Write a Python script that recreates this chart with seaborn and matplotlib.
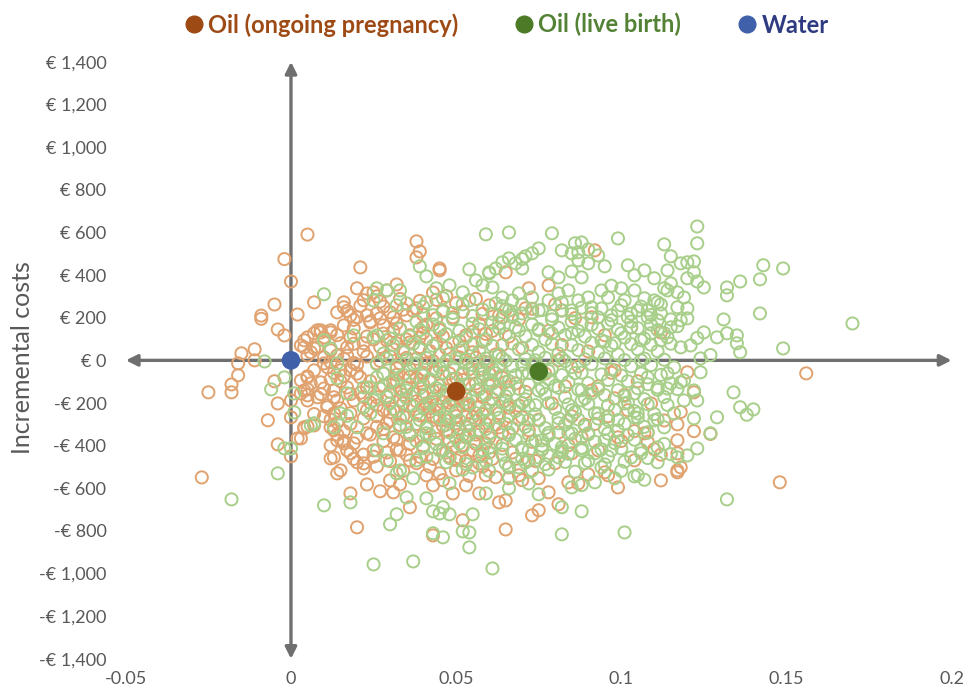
import numpy as np
import matplotlib
matplotlib.use("Agg")
import matplotlib.pyplot as plt
from matplotlib.lines import Line2D
from matplotlib.patches import FancyArrowPatch
import seaborn as sns


# Bootstrap replicates (incremental effect, incremental costs)
ongoing = [
    # left of the y axis / near zero effect
    (0.005, 590), (-0.002, 475), (0.000, 370), (-0.005, 262), (-0.009, 210), (-0.009, 195),
    (0.002, 215), (-0.004, 145), (-0.002, 117), (0.007, 272), (-0.015, 33), (-0.011, 52),
    (-0.016, -14), (-0.011, 0), (0.003, 70), (0.005, 23), (0.007, 127), (0.008, 141),
    (-0.016, -70), (-0.018, -113), (-0.018, -150), (-0.025, -150), (-0.005, -98), (-0.004, -202),
    (-0.007, -281), (0.000, -188), (0.000, -267), (0.003, -94), (0.005, -75), (0.005, -136),
    (0.005, -188), (0.004, -314), (0.005, -310), (0.002, -366), (-0.004, -394), (0.000, -450),
    (-0.027, -549),
    # upper left part of the cloud
    (0.038, 558), (0.039, 511), (0.038, 483), (0.021, 436), (0.045, 431), (0.020, 338),
    (0.023, 314), (0.025, 319), (0.026, 300), (0.029, 328), (0.032, 356), (0.016, 272),
    (0.016, 249), (0.014, 225), (0.018, 211), (0.019, 190), (0.020, 202), (0.023, 211),
    (0.024, 183), (0.026, 220), (0.027, 197), (0.016, 164), (0.019, 150), (0.028, 164),
    (0.031, 202), (0.032, 173), (0.035, 211), (0.009, 141), (0.012, 131), (0.005, 108),
    (0.038, 244), (0.040, 155), (0.044, 197), (0.046, 234), (0.045, 422), (0.004, 61),
    (0.007, 56), (0.015, 80), (0.017, 61), (0.022, 80), (0.029, 94), (0.032, 80),
    (0.036, 84), (0.039, 108), (0.004, 94), (0.009, 131), (0.010, 108), (0.012, 141),
    (0.006, 38), (0.010, 14), (0.012, 47), (0.014, 23),
    # upper right, mostly hidden under live birth
    (0.092, 516), (0.065, 413), (0.072, 338), (0.078, 352), (0.103, 155), (0.112, 131),
    (0.091, 202), (0.071, 244), (0.064, 202), (0.082, 234),
    # lower left
    (0.005, -80), (0.006, -108), (0.004, -141), (0.005, -164), (0.009, -103), (0.011, -211),
    (0.013, -141), (0.013, -173), (0.015, -225), (0.012, -314), (0.007, -305), (0.004, -319),
    (0.003, -366), (0.012, -399), (0.016, -389), (0.012, -460), (0.015, -516), (0.018, -436),
    (0.020, -478), (0.022, -507), (0.019, -389), (0.023, -342), (0.025, -422),
    (0.003, -155), (0.008, -173), (0.011, -220), (0.013, -249), (0.013, -328), (0.014, -375),
    (0.017, -422), (0.013, -455), (0.022, -483), (0.030, -563),
    (0.018, -47), (0.021, -80), (0.023, -127), (0.026, -173), (0.028, -61), (0.031, -108),
    (0.033, -188), (0.035, -267), (0.037, -155), (0.039, -94), (0.041, -202), (0.043, -141),
    (0.044, -267), (0.029, -295), (0.031, -361), (0.033, -422), (0.036, -469), (0.028, -234),
    (0.023, -234), (0.019, -188), (0.017, -127), (0.015, -47), (0.010, -14), (0.007, -47),
    (0.026, -14), (0.033, -14), (0.041, -14),
    (0.047, -141), (0.049, -188), (0.050, -234), (0.047, -267), (0.050, -295), (0.053, -202),
    (0.055, -267), (0.057, -328), (0.053, -361), (0.049, -408), (0.046, -422), (0.051, -455),
    (0.055, -422), (0.059, -389), (0.057, -483), (0.050, -516), (0.045, -530),
    # lower right
    (0.107, -342), (0.117, -375), (0.117, -436), (0.118, -502), (0.104, -469), (0.093, -422),
    (0.085, -436), (0.072, -469), (0.066, -502), (0.070, -267), (0.065, -188), (0.068, -108),
    (0.063, -314), (0.081, 0), (0.102, -234), (0.098, -47), (0.091, -141),
    (0.014, -530), (0.023, -582), (0.018, -624), (0.027, -614), (0.031, -619), (0.033, -582),
    (0.036, -689), (0.020, -783), (0.041, -539), (0.043, -586), (0.043, -821), (0.052, -750),
    (0.065, -793), (0.049, -624), (0.053, -586), (0.057, -624), (0.063, -666), (0.066, -553),
    (0.059, -539),
    (0.073, -727), (0.075, -703), (0.081, -675), (0.078, -619), (0.099, -596), (0.112, -563),
    (0.117, -525), (0.090, -535), (0.096, -539), (0.084, -572), (0.087, -577), (0.075, -553),
    (0.069, -539), (0.065, -657),
    (0.156, -61), (0.148, -572), (0.120, -56), (0.122, -150), (0.117, -300), (0.117, -516),
    (0.110, -417), (0.108, -338), (0.095, -525), (0.099, -361), (0.098, -178), (0.127, -345),
    # dense core
    (0.020, -20), (0.022, 42), (0.025, 98), (0.027, 63), (0.030, 18), (0.032, -38),
    (0.034, 52), (0.036, 118), (0.038, 8), (0.040, -58), (0.042, 44), (0.044, 79),
    (0.046, -22), (0.048, 31), (0.050, -83), (0.052, 61), (0.054, -41), (0.056, 12),
    (0.058, 88), (0.060, -118),
    (0.021, -152), (0.024, -198), (0.026, -262), (0.029, -168), (0.031, -228), (0.033, -303),
    (0.035, -128), (0.037, -213), (0.039, -258), (0.041, -312), (0.043, -178), (0.045, -232),
    (0.047, -331), (0.049, -88), (0.051, -142), (0.053, -258), (0.055, -172), (0.057, -218),
    (0.059, -298), (0.061, -182),
    (0.063, -248), (0.065, -102), (0.067, -318), (0.069, -212), (0.071, -148), (0.073, -382),
    (0.075, -278), (0.077, -62), (0.079, -202), (0.081, -338), (0.083, -122), (0.085, -262),
    (0.087, -28), (0.089, -302), (0.062, 28), (0.066, 112), (0.070, 58), (0.074, -18),
    (0.078, 138), (0.082, 72),
    (0.028, -378), (0.032, -418), (0.036, -352), (0.040, -402), (0.044, -368), (0.048, -452),
    (0.052, -398), (0.056, -348), (0.060, -432), (0.064, -398), (0.068, -462), (0.072, -328),
    (0.076, -418), (0.080, -482), (0.084, -398), (0.088, -362), (0.092, -298), (0.096, -262),
    (0.100, -378), (0.104, -332),
    (0.018, -298), (0.016, -378), (0.022, -442), (0.026, -498), (0.030, -472), (0.034, -518),
    (0.038, -482), (0.042, -498), (0.046, -562), (0.050, -468), (0.054, -542), (0.058, -498),
    (0.062, -548), (0.070, -562), (0.074, -472),
    (0.024, 178), (0.028, 252), (0.033, 148), (0.037, 232), (0.041, 168), (0.045, 142),
    (0.049, 202), (0.053, 118), (0.057, 172), (0.061, 138), (0.065, 238), (0.069, 192),
    (0.073, 242), (0.050, 268), (0.047, 302), (0.043, 318), (0.056, 288), (0.060, 258),
    (0.015, -98), (0.013, -58), (0.017, 22), (0.019, 78), (0.011, -32), (0.009, -158),
    (0.008, 62), (0.007, -252), (0.012, -278), (0.014, -348),
    (0.045, -118), (0.046, -162), (0.048, -198), (0.050, -188), (0.052, -212), (0.044, -208),
    (0.042, -98), (0.054, -112), (0.056, -282), (0.043, -262), (0.047, -282), (0.051, -322),
    (0.055, -58), (0.058, -42), (0.040, -162), (0.038, -82), (0.036, -42), (0.034, -202),
    (0.032, -98), (0.030, -282),
    (0.093, -122), (0.097, -58), (0.101, -162), (0.105, -98), (0.109, -202), (0.113, -282),
    (0.090, 42), (0.095, 118), (0.086, 198), (0.080, 262), (0.108, -382), (0.112, -442),
    (0.118, -242), (0.122, -332),
    (0.022, 282), (0.027, 276), (0.033, 288), (0.039, 279), (0.044, 284),
    (0.017, 232), (0.021, 256), (0.030, 226), (0.034, 238), (0.040, 214), (0.052, 228),
    (0.058, 218), (0.063, 210),
    (0.014, 118), (0.018, 108), (0.023, 112), (0.028, 126), (0.031, 138), (0.035, 98),
    (0.040, 128), (0.046, 112), (0.051, 92), (0.055, 134), (0.059, 124), (0.064, 72),
    (0.012, -8), (0.016, 8), (0.019, -12), (0.023, 18), (0.027, -3), (0.031, 52),
    (0.035, 12), (0.039, 62), (0.043, -4), (0.047, 58), (0.051, 14), (0.055, 38),
    (0.059, -8), (0.063, -28),
    (0.012, -88), (0.016, -72), (0.020, -62), (0.024, -98), (0.028, -118), (0.032, -68),
    (0.036, -78), (0.040, -112), (0.044, -52), (0.048, -62), (0.052, -92), (0.056, -108),
    (0.060, -62), (0.064, -82),
    (0.010, -132), (0.014, -188), (0.018, -158), (0.022, -172), (0.026, -212), (0.030, -148),
    (0.034, -162), (0.038, -192), (0.042, -222), (0.046, -198), (0.050, -162), (0.054, -212),
    (0.058, -172), (0.062, -148), (0.066, -222),
    (0.010, -262), (0.014, -292), (0.018, -248), (0.022, -272), (0.026, -312), (0.030, -242),
    (0.034, -262), (0.038, -298), (0.042, -242), (0.046, -308), (0.050, -262), (0.054, -298),
    (0.058, -252), (0.062, -302), (0.066, -262),
    (0.016, -332), (0.020, -362), (0.024, -348), (0.028, -322), (0.032, -372), (0.036, -392),
    (0.040, -352), (0.044, -332), (0.048, -378), (0.052, -352), (0.056, -392), (0.060, -362),
    (0.064, -338),
    (0.019, -462), (0.025, -452), (0.029, -432), (0.035, -442), (0.039, -452), (0.043, -462),
    (0.047, -432), (0.053, -472), (0.057, -448), (0.061, -462), (0.067, -432),
]

live_birth = [
    # near the y axis
    (-0.008, -5), (-0.002, -80), (-0.006, -136), (0.001, -155), (0.001, -244), (0.006, -305),
    (-0.002, -413), (0.000, -413), (-0.004, -530), (-0.018, -652),
    (0.012, 56), (0.014, -14), (0.024, -127), (0.025, -188), (0.022, -220), (0.017, -260),
    (0.013, -314), (0.007, -295),
    # upper part
    (0.059, 591), (0.010, 310), (0.041, 394), (0.039, 441), (0.054, 427), (0.044, 338),
    (0.046, 291), (0.048, 352), (0.052, 319), (0.054, 281), (0.056, 375), (0.058, 352),
    (0.060, 413), (0.062, 431), (0.061, 342), (0.026, 338), (0.029, 328), (0.033, 328),
    (0.025, 281), (0.032, 258), (0.035, 267), (0.041, 272), (0.019, 117), (0.025, 108),
    (0.026, 117), (0.010, 94),
    (0.066, 600), (0.079, 596), (0.099, 572), (0.113, 544), (0.115, 488), (0.114, 422),
    (0.118, 455), (0.120, 460), (0.086, 549), (0.088, 553), (0.087, 507), (0.090, 520),
    (0.082, 516), (0.085, 502), (0.075, 525), (0.073, 502), (0.071, 488), (0.070, 475),
    (0.066, 478), (0.068, 455), (0.064, 460), (0.070, 431), (0.060, 408), (0.078, 413),
    (0.081, 389), (0.085, 417), (0.088, 389), (0.090, 455), (0.095, 441), (0.093, 492),
    (0.087, 469), (0.102, 446), (0.104, 399), (0.107, 422), (0.110, 385), (0.115, 361),
    (0.113, 338), (0.117, 319), (0.119, 295), (0.117, 249), (0.120, 244), (0.118, 188),
    (0.115, 155), (0.114, 108), (0.118, 61), (0.111, 272), (0.107, 291), (0.104, 328),
    (0.105, 234), (0.108, 234), (0.111, 188), (0.109, 127), (0.112, 94), (0.106, 94),
    (0.101, 281), (0.099, 234), (0.102, 202), (0.096, 295), (0.094, 328), (0.100, 338),
    (0.097, 350),
    (0.081, 314), (0.084, 328), (0.087, 281), (0.090, 295), (0.091, 249), (0.085, 234),
    (0.082, 234), (0.078, 281), (0.073, 295), (0.069, 314), (0.067, 281), (0.064, 295),
    (0.062, 267), (0.066, 234), (0.070, 220), (0.075, 234), (0.093, 202), (0.088, 173),
    (0.096, 173), (0.100, 127), (0.103, 155), (0.098, 80), (0.094, 94), (0.085, 127),
    (0.079, 127), (0.075, 141), (0.068, 155), (0.063, 173),
    # right tail
    (0.123, 628), (0.123, 549), (0.122, 464), (0.122, 413), (0.120, 385), (0.123, 370),
    (0.125, 342), (0.132, 342), (0.132, 305), (0.136, 370), (0.142, 380), (0.143, 446),
    (0.149, 431), (0.142, 220), (0.131, 192), (0.149, 56), (0.170, 173), (0.132, 127),
    (0.135, 117), (0.129, 108), (0.125, 131), (0.123, 105), (0.120, 197), (0.117, 160),
    (0.136, 38), (0.135, 80), (0.124, 9), (0.127, 25), (0.121, 70), (0.116, -33),
    (0.118, -103), (0.124, -56), (0.114, -61), (0.134, -150), (0.136, -220), (0.140, -230),
    (0.138, -255), (0.129, -267), (0.123, -188), (0.122, -141), (0.122, -272), (0.127, -342),
    (0.123, -413), (0.120, -446), (0.115, -440), (0.111, -478), (0.106, -436), (0.105, -539),
    (0.114, 328), (0.110, 281), (0.112, 220), (0.108, 202),
    # lower part
    (0.014, -84), (0.017, -155), (0.015, -249), (0.020, -314), (0.024, -249), (0.028, -342),
    (0.033, -314), (0.026, -422), (0.029, -469), (0.033, -516), (0.038, -469), (0.035, -141),
    (0.041, -342), (0.045, -422), (0.047, -267), (0.051, -389), (0.055, -502), (0.059, -234),
    (0.061, -108), (0.057, -47), (0.053, -14), (0.045, -33), (0.038, -14), (0.031, -94),
    (0.022, -127), (0.026, -80),
    (0.106, 0), (0.108, -80), (0.111, -127), (0.115, -108), (0.119, -94), (0.119, -188),
    (0.116, -249), (0.113, -314), (0.110, -281), (0.105, -249), (0.104, -155), (0.101, -202),
    (0.099, -328), (0.096, -281), (0.093, -249), (0.091, -155), (0.088, -188), (0.085, -234),
    (0.090, -342), (0.095, -375), (0.097, -422), (0.092, -436), (0.088, -422), (0.085, -342),
    (0.081, -295), (0.081, -455), (0.082, -408), (0.076, -375), (0.075, -455), (0.072, -422),
    (0.069, -502), (0.073, -516), (0.111, -408), (0.117, -455), (0.103, -455), (0.104, -267),
    (0.010, -680), (0.018, -666), (0.032, -530), (0.035, -643), (0.037, -553), (0.041, -647),
    (0.043, -708), (0.045, -718), (0.046, -689), (0.048, -722), (0.032, -722), (0.030, -769),
    (0.043, -811), (0.046, -830), (0.052, -802), (0.054, -807), (0.055, -722), (0.054, -877),
    (0.025, -957), (0.037, -943), (0.061, -976), (0.059, -624), (0.048, -577), (0.066, -600),
    (0.132, -652), (0.101, -807), (0.082, -816), (0.088, -708), (0.082, -689), (0.075, -628),
    (0.092, -572), (0.098, -553), (0.104, -544), (0.107, -560), (0.066, -549), (0.072, -577),
    (0.085, -596), (0.088, -585),
    # dense core
    (0.040, 252), (0.046, 228), (0.052, 263), (0.058, 238), (0.064, 254), (0.070, 262),
    (0.076, 236), (0.082, 271), (0.088, 247), (0.094, 243), (0.100, 258), (0.106, 252),
    (0.112, 262),
    (0.038, 182), (0.043, 168), (0.049, 193), (0.055, 172), (0.061, 178), (0.067, 203),
    (0.073, 168), (0.079, 192), (0.085, 183), (0.091, 167), (0.097, 188), (0.103, 182),
    (0.109, 168), (0.115, 192),
    (0.036, 112), (0.041, 98), (0.047, 123), (0.053, 108), (0.059, 97), (0.065, 122),
    (0.071, 113), (0.077, 98), (0.083, 118), (0.089, 112), (0.095, 88), (0.101, 107),
    (0.107, 102), (0.113, 128), (0.030, 103),
    (0.034, 38), (0.039, 53), (0.045, 27), (0.051, 48), (0.057, 42), (0.063, 28),
    (0.069, 52), (0.075, 38), (0.081, 32), (0.087, 48), (0.093, 37), (0.099, 28),
    (0.105, 52), (0.111, 43), (0.028, 32),
    (0.032, -28), (0.037, -18), (0.043, -42), (0.049, -33), (0.055, -22), (0.061, -38),
    (0.067, -27), (0.073, -17), (0.079, -42), (0.085, -32), (0.091, -18), (0.097, -43),
    (0.103, -28), (0.109, -22), (0.026, -18),
    (0.030, -102), (0.036, -112), (0.042, -88), (0.048, -103), (0.054, -108), (0.060, -92),
    (0.066, -97), (0.072, -113), (0.078, -88), (0.084, -102), (0.090, -107), (0.096, -92),
    (0.102, -98), (0.108, -112), (0.114, -132),
    (0.029, -172), (0.035, -178), (0.041, -158), (0.047, -173), (0.053, -182), (0.059, -162),
    (0.065, -168), (0.071, -183), (0.077, -158), (0.083, -172), (0.089, -178), (0.095, -163),
    (0.101, -168), (0.107, -182), (0.113, -172),
    (0.032, -238), (0.038, -252), (0.044, -228), (0.050, -242), (0.056, -248), (0.062, -232),
    (0.068, -238), (0.074, -253), (0.080, -228), (0.086, -243), (0.092, -248), (0.098, -233),
    (0.104, -238), (0.110, -252),
    (0.035, -312), (0.041, -318), (0.047, -302), (0.053, -308), (0.059, -322), (0.065, -298),
    (0.071, -312), (0.077, -318), (0.083, -302), (0.089, -308), (0.095, -322), (0.101, -298),
    (0.107, -312),
    (0.038, -378), (0.044, -392), (0.050, -368), (0.056, -382), (0.062, -388), (0.068, -372),
    (0.074, -378), (0.080, -392), (0.086, -368), (0.092, -382), (0.098, -388), (0.104, -372),
    (0.113, -392),
    (0.041, -452), (0.048, -458), (0.058, -448), (0.064, -442), (0.070, -462), (0.078, -448),
    (0.084, -438), (0.090, -472), (0.096, -452), (0.108, -458),
    (0.052, -512), (0.060, -518), (0.066, -498), (0.078, -512), (0.086, -522), (0.094, -502),
    (0.100, -518),
    (0.072, -60), (0.075, -80), (0.078, -50), (0.070, -20), (0.074, 0), (0.068, -70),
    (0.076, -130), (0.080, -120), (0.066, -140), (0.062, -60), (0.058, -80), (0.060, -10),
    (0.064, 10), (0.082, 10), (0.086, -60), (0.088, -140), (0.070, -200), (0.074, -210),
    (0.064, -200), (0.056, -140), (0.052, -60), (0.050, 10), (0.046, -60), (0.044, -130),
    (0.040, -220), (0.048, -280), (0.054, -330), (0.060, -280), (0.066, -350), (0.072, -280),
    (0.078, -340), (0.084, -280), (0.088, -410), (0.082, -430), (0.076, -400), (0.070, -420),
    (0.060, -410),
    (0.043, 212), (0.049, 222), (0.055, 208), (0.061, 218), (0.067, 214), (0.073, 224),
    (0.079, 209), (0.085, 217), (0.091, 221), (0.097, 211), (0.103, 219), (0.109, 213),
    (0.033, 148), (0.039, 142), (0.045, 152), (0.051, 139), (0.057, 146), (0.063, 151),
    (0.069, 141), (0.075, 147), (0.081, 153), (0.087, 138), (0.093, 149), (0.099, 144),
    (0.105, 151), (0.111, 142),
    (0.031, 72), (0.037, 78), (0.043, 69), (0.049, 81), (0.055, 74), (0.061, 68),
    (0.067, 79), (0.073, 73), (0.079, 77), (0.085, 71), (0.091, 82), (0.097, 69),
    (0.103, 76), (0.109, 73), (0.115, 78),
    (0.029, 8), (0.035, 2), (0.041, 11), (0.047, -3), (0.053, 6), (0.059, 9),
    (0.065, -2), (0.071, 7), (0.077, 12), (0.083, -4), (0.089, 5), (0.095, 9),
    (0.101, 1), (0.107, 8), (0.113, 3),
    (0.028, -62), (0.034, -68), (0.040, -71), (0.046, -58), (0.052, -66), (0.058, -63),
    (0.064, -72), (0.070, -61), (0.076, -67), (0.082, -69), (0.088, -58), (0.094, -66),
    (0.100, -71), (0.106, -62), (0.112, -68),
    (0.027, -132), (0.033, -138), (0.039, -131), (0.045, -141), (0.051, -128), (0.057, -136),
    (0.063, -139), (0.069, -133), (0.075, -142), (0.081, -129), (0.087, -137), (0.093, -134),
    (0.099, -140), (0.105, -131), (0.111, -138), (0.117, -135),
    (0.030, -202), (0.036, -209), (0.042, -198), (0.048, -211), (0.054, -204), (0.060, -199),
    (0.066, -208), (0.072, -212), (0.078, -201), (0.084, -207), (0.090, -203), (0.096, -211),
    (0.102, -198), (0.108, -206), (0.114, -209),
    (0.033, -272), (0.039, -279), (0.045, -268), (0.051, -281), (0.057, -274), (0.063, -269),
    (0.069, -278), (0.075, -282), (0.081, -271), (0.087, -277), (0.093, -273), (0.099, -280),
    (0.105, -269), (0.111, -276),
    (0.036, -342), (0.042, -349), (0.048, -338), (0.054, -351), (0.060, -344), (0.066, -339),
    (0.072, -348), (0.078, -352), (0.084, -341), (0.090, -347), (0.096, -343), (0.102, -350),
    (0.108, -339),
    (0.040, -412), (0.046, -419), (0.052, -408), (0.058, -421), (0.064, -414), (0.070, -409),
    (0.076, -418), (0.082, -422), (0.088, -411), (0.094, -417), (0.100, -413), (0.106, -420),
    (0.047, -478), (0.053, -486), (0.059, -474), (0.065, -483), (0.071, -479), (0.077, -487),
    (0.083, -476), (0.089, -482), (0.095, -488), (0.101, -475),
]

mean_labels = ["Oil (ongoing pregnancy)", "Oil (live birth)", "Water"]
mean_effect = [0.050, 0.075, 0.0]
mean_cost = [-145, -52, 0]
mean_colors = ["#9E4A14", "#4D7A26", "#4060AA"]
label_colors = ["#9E4A14", "#548235", "#2F3B80"]

x_ticks = [-0.05, 0, 0.05, 0.1, 0.15, 0.2]
x_ticklabels = ["-0.05", "0", "0.05", "0.1", "0.15", "0.2"]
y_ticks = [-1400, -1200, -1000, -800, -600, -400, -200, 0, 200, 400, 600, 800, 1000, 1200, 1400]
y_ticklabels = ["-€ 1,400", "-€ 1,200", "-€ 1,000", "-€ 800", "-€ 600", "-€ 400", "-€ 200", "€ 0",
                "€ 200", "€ 400", "€ 600", "€ 800", "€ 1,000", "€ 1,200", "€ 1,400"]


sns.set_theme(style="white")
plt.rcParams["font.family"] = ["Lato", "DejaVu Sans"]

fig = plt.figure(figsize=(9.68, 6.95), dpi=100)
ax = fig.add_axes([0.130, 0.052, 0.853, 0.859])

og = np.array(ongoing)
lb = np.array(live_birth)

# hollow replicate clouds, orange first so green sits on top
for pts, col, z in [(og, "#E0A26E", 3), (lb, "#A8CF8A", 4)]:
    sns.scatterplot(x=pts[:, 0], y=pts[:, 1], ax=ax, s=76, marker="o",
                    facecolor="none", edgecolor=col, linewidth=1.4, zorder=z)
    ax.collections[-1].set_facecolor("none")
    ax.collections[-1].set_edgecolor(col)

# point estimates
sns.scatterplot(x=mean_effect, y=mean_cost, hue=mean_labels, palette=mean_colors,
                s=180, linewidth=0, legend=False, ax=ax, zorder=6)

# cross-shaped axes with arrow heads
arrow_kw = dict(arrowstyle="<|-|>", mutation_scale=17, color="#6F6F6F", lw=2.4,
                shrinkA=0, shrinkB=0, zorder=2, clip_on=False)
ax.add_patch(FancyArrowPatch((-0.05, 0), (0.2, 0), **arrow_kw))
ax.add_patch(FancyArrowPatch((0, -1400), (0, 1400), **arrow_kw))

ax.set_xlim(-0.05, 0.2)
ax.set_ylim(-1400, 1400)
ax.set_xticks(x_ticks, x_ticklabels)
ax.set_yticks(y_ticks, y_ticklabels)
ax.tick_params(axis="both", length=0, labelsize=13, colors="#595959")
ax.tick_params(axis="y", pad=14)
ax.tick_params(axis="x", pad=9)
for sp in ax.spines.values():
    sp.set_visible(False)

fig.text(0.023, 0.485, "Incremental costs", rotation=90, ha="center", va="center",
         fontsize=18, color="#595959")

handles = [Line2D([], [], marker="o", ls="", ms=12, mfc=c, mec=c) for c in mean_colors]
leg = fig.legend(handles, mean_labels, loc="upper center", bbox_to_anchor=(0.522, 1.012),
                 ncol=3, frameon=False, handletextpad=0.1, columnspacing=2.3,
                 handlelength=1.0, prop={"weight": "bold", "size": 17})
for t, c in zip(leg.get_texts(), label_colors):
    t.set_color(c)

fig.savefig("out.png", dpi=100)
